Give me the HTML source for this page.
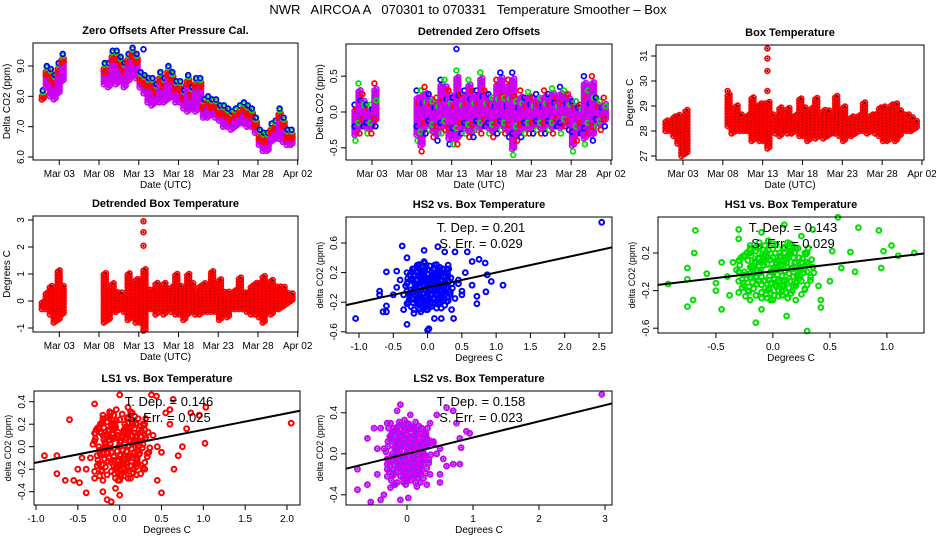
<!DOCTYPE html>
<html><head><meta charset="utf-8"><style>
html,body{margin:0;padding:0;background:#fff;}
svg{display:block;font-family:"Liberation Sans",sans-serif;}
.t{font-weight:bold;font-size:11px;}
.ax{font-size:10px;}
</style></head><body>
<svg id="c" width="936" height="540" viewBox="0 0 936 540">
<text x="468" y="14" text-anchor="middle" font-size="13" xml:space="preserve">NWR   AIRCOA A   070301 to 070331   Temperature Smoother – Box</text>
</svg>
<script>
// ---------- data ----------
const segDays = [0.8,1.3,1.8,2.3,2.8,3.3,8.6,9.1,9.6,10.1,10.6,11.1,11.6,12.1,12.6,13.1,13.6,14.1,14.6,15.1,15.6,16.1,16.6,17.1,17.6,18.1,18.6,19.1,19.6,20.1,20.6,21.1,21.6,22.1,22.6,23.1,23.6,24.1,24.6,25.1,25.6,26.1,26.6,27.1,27.6,28.1,28.6,29.1,29.6,30.1,30.6,31.1,31.6,32.1];
const dateTicks = [3,8,13,18,23,28,33];
const dateLabels = ["Mar 03","Mar 08","Mar 13","Mar 18","Mar 23","Mar 28","Apr 02"];
const zeroTop = [8.2,9.0,8.9,8.7,9.1,9.4,9.1,9.1,9.5,9.5,9.3,9.1,9.4,9.6,9.4,8.8,8.7,8.6,8.6,8.4,8.8,8.6,9.0,8.8,8.5,8.5,8.2,8.7,8.3,8.6,8.6,7.9,8.0,7.9,7.9,7.7,7.7,7.6,7.5,7.6,7.7,7.8,7.7,7.6,7.3,6.9,6.8,6.8,7.1,7.2,7.6,7.3,6.9,6.9];
const zeroLow = [7.9,8.3,8.0,7.9,8.1,8.5,8.4,8.3,8.6,8.4,8.5,8.3,8.5,8.7,8.6,8.3,8.1,7.8,7.7,7.8,7.8,7.8,7.9,8.0,7.8,7.8,7.6,7.5,7.6,7.5,7.6,7.3,7.3,7.4,7.3,7.2,7.0,7.0,6.9,7.0,7.1,7.1,7.0,7.0,6.8,6.4,6.2,6.2,6.5,6.6,6.6,6.5,6.4,6.4];
const zeroOutX = [13.6];
const zeroOutY = [9.55];
const detHi = [0.1,0.4,0.25,0.1,0.1,0.4,0.3,0.3,0.35,0.25,0.15,0.2,0.45,0.45,0.3,0.2,0.58,0.25,0.3,0.45,0.3,0.3,0.55,0.3,0.25,0.2,0.45,0.55,0.2,0.45,0.55,0.15,0.3,0.2,0.28,0.2,0.25,0.2,0.3,0.25,0.33,0.2,0.35,0.3,0.25,0.15,0.15,0.1,0.5,0.3,0.5,0.2,0.15,0.2];
const detLo = [-0.4,-0.3,-0.2,-0.3,-0.3,-0.2,-0.4,-0.55,-0.3,-0.25,-0.35,-0.4,-0.3,-0.25,-0.45,-0.45,-0.45,-0.3,-0.3,-0.35,-0.35,-0.25,-0.3,-0.2,-0.3,-0.35,-0.3,-0.25,-0.3,-0.35,-0.6,-0.4,-0.35,-0.3,-0.3,-0.3,-0.25,-0.3,-0.3,-0.25,-0.3,-0.2,-0.3,-0.2,-0.25,-0.55,-0.4,-0.3,-0.45,-0.3,-0.4,-0.2,-0.25,-0.2];
const detOutX = [13.6];
const detOutY = [0.88];
const boxHi = [28.4,28.4,28.6,28.6,28.2,28.8,29.5,28.6,29.0,28.6,28.5,28.6,29.3,28.9,29.1,29.1,29.1,28.6,28.6,28.9,28.5,28.9,28.5,28.7,29.3,28.9,28.8,29.0,29.3,28.6,28.8,28.8,28.6,29.4,28.8,29.0,28.5,28.6,28.5,28.7,29.1,28.6,28.6,28.7,28.9,29.0,28.9,29.1,29.1,28.8,28.7,28.7,28.5,28.4];
const boxLo = [28.0,28.0,27.8,27.5,27.0,27.1,28.2,27.9,28.0,28.0,28.0,28.0,27.6,27.7,27.6,27.6,27.3,28.0,27.9,27.8,28.0,27.9,27.9,28.0,27.8,27.8,27.6,27.8,27.7,27.8,27.7,27.8,27.9,27.9,27.8,27.6,27.8,27.8,27.9,28.0,28.0,27.9,28.0,27.9,27.8,27.6,27.6,27.8,27.6,27.8,28.0,28.0,28.0,28.1];
const boxOutX = [13.6,13.6,13.6,13.6,8.6];
const boxOutY = [31.3,30.9,30.4,29.6,29.6];
const dboxHi = [0.0,0.3,0.5,0.4,1.1,0.6,1.0,0.4,0.7,0.3,0.3,0.2,1.0,0.5,0.8,0.8,1.2,0.4,0.4,0.7,0.3,0.7,0.3,0.5,1.0,0.6,0.5,1.0,0.6,0.3,0.6,0.6,0.3,1.1,0.5,0.8,0.3,0.3,0.3,0.4,0.9,0.3,0.3,0.5,0.7,0.7,0.9,0.5,0.8,0.5,0.5,0.5,0.3,0.3];
const dboxLo = [-0.3,-0.3,-0.5,-0.8,-0.7,-0.5,-0.8,-0.7,-0.4,-0.4,-0.3,-0.4,-0.7,-0.6,-0.8,-0.8,-1.1,-0.3,-0.3,-0.5,-0.3,-0.5,-0.3,-0.4,-0.5,-0.5,-0.7,-0.5,-0.4,-0.5,-0.5,-0.4,-0.4,-0.4,-0.4,-0.7,-0.5,-0.6,-0.3,-0.3,-0.3,-0.3,-0.4,-0.5,-0.5,-0.6,-0.8,-0.4,-0.5,-0.3,-0.3,-0.2,-0.1,0.0];
const dboxOutX = [13.6,13.6,13.6];
const dboxOutY = [2.05,2.55,2.95];

// dense core cloud (shared shape of the central scatter, value units)
const coreX = [-0.32,-0.27,-0.22,-0.17,-0.12,-0.07,-0.02,0.03,0.08,0.13,0.18,0.23,0.28,0.33,-0.3,-0.25,-0.2,-0.15,-0.1,-0.05,0.0,0.05,0.1,0.15,0.2,0.25,0.3,-0.29,-0.24,-0.19,-0.14,-0.09,-0.04,0.01,0.06,0.11,0.16,0.21,0.26,0.31,-0.26,-0.21,-0.16,-0.11,-0.06,-0.01,0.04,0.09,0.14,0.19,0.24,-0.23,-0.18,-0.13,-0.08,-0.03,0.02,0.07,0.12,0.17,0.22,-0.2,-0.15,-0.1,-0.05,0.0,0.05,0.1,0.15,0.2,-0.12,-0.07,-0.02,0.03,0.08,0.13];
const coreY = [0.02,-0.08,0.12,-0.18,0.06,0.18,-0.12,0.1,-0.04,0.14,-0.16,0.04,0.2,-0.06,-0.22,0.16,-0.02,0.22,-0.14,0.08,0.24,-0.2,0.0,-0.1,0.1,-0.24,-0.14,0.12,-0.26,0.06,-0.06,0.16,-0.18,-0.08,0.2,-0.22,0.04,-0.04,0.14,0.08,-0.12,-0.16,0.1,0.02,-0.24,0.0,0.12,-0.14,-0.02,0.2,-0.06,0.2,0.04,-0.1,0.12,-0.04,-0.14,0.06,0.16,-0.2,0.0,-0.06,0.26,-0.22,-0.28,0.04,-0.26,0.26,0.22,-0.12,0.14,0.28,-0.3,-0.16,0.08,-0.28];

const hs2X = [2.54,-1.05,-0.7,-0.7,-0.65,-0.6,-0.6,-0.6,-0.45,-0.37,-0.3,-0.3,-0.05,-0.05,0.0,0.02,0.15,0.25,0.4,0.58,0.65,0.75,0.84,0.87,0.93,1.1,0.85,0.72,0.72,0.65,0.55,0.5,0.38,0.35,0.2,0.1,-0.1,-0.2,-0.35,0.45,0.3,
 -0.3,-0.25,-0.2,-0.15,-0.1,-0.05,0,0.05,0.1,0.15,0.2,0.25,0.3,-0.28,-0.22,-0.18,-0.12,-0.08,-0.02,0.02,0.08,0.12,0.18,0.22,0.28,-0.3,-0.2,-0.1,0,0.1,0.2,0.3,-0.25,-0.15,-0.05,0.05,0.15,0.25,-0.35,0.35,-0.4,0.4,-0.2,0,0.2,-0.1,0.1,-0.3,0.3,0,-0.45,-0.5,0.45,0.5,-0.15,0.15];
const hs2Y = [0.88,-0.42,-0.05,-0.1,-0.33,-0.33,-0.25,0.21,0.22,0.56,0.4,-0.5,0.5,0.35,-0.58,-0.56,0.55,0.48,0.48,0.48,0.35,0.38,0.33,0.17,0.08,0.03,-0.06,-0.12,-0.22,0.03,0.2,-0.1,-0.42,-0.3,-0.42,-0.42,-0.33,-0.35,-0.3,0.1,0.3,
 0.05,-0.1,0.15,-0.2,0.0,0.2,-0.05,0.1,-0.15,0.05,0.2,-0.1,0.0,-0.2,0.25,0.0,-0.3,0.1,0.28,-0.25,0.15,-0.05,-0.2,0.1,0.25,0.2,-0.15,0.22,0.1,0.3,-0.05,-0.18,0.1,0.3,-0.28,-0.1,0.25,0.2,-0.1,0.05,0.1,-0.15,-0.3,-0.3,-0.28,-0.12,0.05,-0.05,0.15,0.18,0.0,-0.1,0.05,-0.05,-0.22,0.12];
const hs1X = [-0.92,-0.75,-0.75,-0.68,-0.7,-0.75,-0.69,-0.58,-0.5,-0.5,-0.45,-0.45,-0.3,-0.3,-0.15,0.3,0.12,-0.1,0.42,0.42,0.57,0.75,0.93,1.04,0.97,1.1,1.24,0.95,0.72,0.68,0.6,0.5,0.35,0.25,0.1,-0.1,0.52,0.2,-0.2,-0.38,
 -0.3,-0.25,-0.2,-0.15,-0.1,-0.05,0,0.05,0.1,0.15,0.2,0.25,0.3,-0.28,-0.22,-0.18,-0.12,-0.08,-0.02,0.02,0.08,0.12,0.18,0.22,0.28,-0.3,-0.2,-0.1,0,0.1,0.2,0.3,-0.25,-0.15,-0.05,0.05,0.15,0.25,-0.35,0.35,-0.4,0.4,-0.2,0,0.2,-0.1,0.1,-0.3,0.3,0];
const hs1Y = [-0.13,0.04,-0.08,0.44,-0.3,-0.37,0.2,-0.02,-0.12,-0.2,-0.4,0.1,0.45,0.35,-0.54,-0.63,-0.47,-0.4,-0.38,-0.3,0.58,0.47,0.44,0.28,0.22,0.17,0.2,0.04,0.0,0.21,0.04,-0.1,0.45,0.38,0.5,0.42,0.22,-0.3,-0.3,-0.25,
 0.0,-0.15,0.2,-0.05,0.1,-0.2,0.15,0.05,-0.1,0.25,-0.15,0.1,0.0,0.15,-0.2,0.05,0.25,-0.1,0.0,0.2,-0.25,0.1,0.15,-0.05,-0.18,-0.1,0.28,-0.22,0.3,-0.15,0.1,0.2,0.0,-0.25,0.15,-0.2,0.3,-0.1,0.1,0.05,-0.05,-0.15,0.05,-0.3,0.25,-0.28,0.2,0.12,0.1,0.0];
const ls1X = [2.05,-0.9,-0.75,-0.75,-0.65,-0.6,-0.55,-0.5,-0.48,-0.4,-0.2,-0.15,-0.1,0.0,-0.05,0.5,0.38,0.44,0.0,0.64,-0.3,1.02,1.03,0.95,0.85,0.8,0.75,0.7,0.65,0.6,0.55,0.6,0.3,0.45,0.2,0.1,-0.2,
 -0.35,-0.3,-0.25,-0.2,-0.15,-0.1,-0.05,0,0.05,0.1,0.15,0.2,0.25,0.3,0.35,-0.28,-0.22,-0.18,-0.12,-0.08,-0.02,0.02,0.08,0.12,0.18,0.22,0.28,-0.3,-0.2,-0.1,0,0.1,0.2,0.3,-0.25,-0.15,-0.05,0.05,0.15,0.25,-0.4,0.4,-0.45,0.45,-0.2,0,0.2,-0.1,0.1,-0.3,0.3,0,0.5];
const ls1Y = [0.21,-0.08,-0.08,-0.24,-0.3,0.24,-0.3,-0.2,-0.32,-0.41,-0.4,-0.47,-0.49,-0.43,-0.37,-0.41,0.46,0.45,0.46,0.42,0.38,0.03,0.35,0.28,0.3,0.16,0.0,-0.08,-0.2,0.2,0.3,0.33,-0.2,-0.3,-0.25,0.35,0.28,
 -0.1,0.05,-0.15,0.1,-0.05,0.2,-0.2,0.0,0.15,-0.1,0.1,-0.18,0.05,0.2,-0.05,0.15,-0.22,0.0,0.25,-0.12,0.1,-0.25,0.18,-0.08,0.12,-0.15,0.02,-0.28,0.22,0.08,-0.2,0.25,-0.1,0.1,0.0,-0.25,0.18,-0.15,0.3,0.05,-0.2,0.1,-0.1,0.0,-0.3,-0.3,0.2,0.3,-0.28,0.12,0.15,0.0,-0.05];
const ls2X = [2.95,-0.75,-0.75,-0.6,-0.55,-0.6,-0.5,-0.45,-0.4,-0.35,-0.25,-0.1,0.02,-0.1,-0.15,0.05,0.6,0.7,0.75,0.9,0.95,0.8,0.82,0.8,0.7,0.6,0.5,0.5,0.3,0.15,0.45,0.35,-0.3,-0.4,
 -0.35,-0.3,-0.25,-0.2,-0.15,-0.1,-0.05,0,0.05,0.1,0.15,0.2,0.25,0.3,0.35,0.4,-0.28,-0.22,-0.18,-0.12,-0.08,-0.02,0.02,0.08,0.12,0.18,0.22,0.28,-0.3,-0.2,-0.1,0,0.1,0.2,0.3,-0.25,-0.15,-0.05,0.05,0.15,0.25,0.45,0.4,-0.45,0.5,-0.2,0,0.2,-0.1,0.1,-0.3,0.3,0,0.55];
const ls2Y = [0.58,-0.15,-0.35,-0.3,-0.47,0.15,0.25,-0.2,-0.45,-0.4,-0.33,-0.45,-0.43,0.48,0.42,0.38,0.45,0.42,0.3,0.22,0.2,0.15,0.06,-0.1,-0.1,-0.12,-0.2,-0.28,-0.3,-0.32,0.38,0.3,0.3,0.25,
 0.05,-0.1,0.15,-0.2,0.0,0.2,-0.05,0.1,-0.15,0.05,0.2,-0.1,0.0,0.15,-0.2,0.1,0.25,0.0,-0.3,0.1,0.28,-0.25,0.15,-0.05,-0.2,0.1,0.25,0.2,-0.15,0.22,0.1,0.3,-0.05,-0.18,0.1,0.3,-0.28,-0.1,0.25,0.2,-0.1,0.0,0.12,0.05,0.05,-0.3,-0.25,-0.28,-0.12,0.05,-0.05,0.15,0.18,-0.05];
const slopes = [0.201,0.143,0.146,0.158];
const serrs = ["0.029","0.029","0.025","0.023"];
const intercepts = [0.0,0.0,0.004,0.0];

// ---------- drawing ----------
const svg = document.getElementById('c');
const NS = 'http://www.w3.org/2000/svg';
function mk(tag, attrs, parent){ const e=document.createElementNS(NS,tag); for(const k in attrs) e.setAttribute(k,attrs[k]); (parent||svg).appendChild(e); return e; }
function lin(d0,d1,p0,p1){ return v=>p0+(v-d0)*(p1-p0)/(d1-d0); }

function panel(name,title,box,xs,ys,xt,xl,yt,yl,xlab,ylab,ylabSize){
  const g=mk('g',{});
  
  
  const tt=mk('text',{x:(box[0]+box[2])/2,y:box[1]-9,'text-anchor':'middle',class:'t'},g);
  tt.textContent=title;
  
  
  const plot=mk('g',{},g);
  
  
  const fr=mk('rect',{x:box[0],y:box[1],width:box[2]-box[0],height:box[3]-box[1],fill:'none',stroke:'#000','stroke-width':1},g);
  
  
  const xa=mk('g',{},g);
  
  
  xt.forEach((v,i)=>{const x=xs(v); mk('line',{x1:x,x2:x,y1:box[3],y2:box[3]+5,stroke:'#000'},xa);
    const t=mk('text',{x:x,y:box[3]+17,'text-anchor':'middle',class:'ax'},xa); t.textContent=xl[i];});
  const xlt=mk('text',{x:(box[0]+box[2])/2,y:box[3]+28,'text-anchor':'middle',class:'ax'},g);
  xlt.textContent=xlab;
  
  
  const ya=mk('g',{},g);
  
  
  yt.forEach((v,i)=>{const y=ys(v); mk('line',{x1:box[0]-5,x2:box[0],y1:y,y2:y,stroke:'#000'},ya);
    const t=mk('text',{x:box[0]-9,y:y,'text-anchor':'middle',class:'ax',transform:`rotate(-90 ${box[0]-9} ${y})`},ya); t.textContent=yl[i];});
  const yx=box[0]-23, yc=(box[1]+box[3])/2;
  const ylt=mk('text',{x:yx,y:yc,'text-anchor':'middle','font-size':ylabSize||10,transform:`rotate(-90 ${yx} ${yc})`},g);
  ylt.textContent=ylab;
  
  
  return plot;
}
function circ(p,x,y,col,extra,sw){ mk('circle',{cx:x.toFixed(1),cy:y.toFixed(1),r:2.4,fill:'none',stroke:col,'stroke-width':sw||1.7},p); if(extra) mk('circle',{cx:x.toFixed(1),cy:y.toFixed(1),r:1.1,fill:extra},p); }
function column(p,x,y1,y2,col,extra){ const top=Math.min(y1,y2), bot=Math.max(y1,y2); for(let y=bot;y>=top;y-=3){ circ(p,x,y,col,extra); circ(p,x+2,y-1.5,col,extra);} }

const dticks=dateTicks;
// P1
{ const box=[33,43,298,160]; const xs=lin(3,33,59.3,297.7), ys=lin(6,9,157,66);
  const p=panel('zero-offsets','Zero Offsets After Pressure Cal.',box,xs,ys,dticks,dateLabels,[6,7,8,9],['6.0','7.0','8.0','9.0'],'Date (UTC)','Delta CO2 (ppm)');
  segDays.forEach((d,i)=>{const x=xs(d);
    column(p,x,ys(zeroLow[i]),ys(zeroTop[i]-0.25),'#d000f0','#4040ff');
    column(p,x,ys(zeroTop[i]-0.3),ys(zeroTop[i]-0.12),'#ff0000');
    circ(p,x+1,ys(zeroTop[i]-0.06),'#00e000'); circ(p,x+1,ys(zeroTop[i]),'#0000ff');});
  zeroOutX.forEach((d,i)=>circ(p,xs(d),ys(zeroOutY[i]),'#0000ff'));
}
// P2
{ const box=[346,44,612,160]; const xs=lin(3,33,372,611), ys=lin(0,0.5,112,76.2);
  const p=panel('detrended-zero-offsets','Detrended Zero Offsets',box,xs,ys,dticks,dateLabels,[-0.5,0,0.5],['-0.5','0.0','0.5'],'Date (UTC)','Delta CO2 (ppm)');
  const cols=['#0000ff','#00e000','#ff0000'];
  segDays.forEach((d,i)=>{const x=xs(d);
    column(p,x,ys(detLo[i]+0.08),ys(detHi[i]-0.08),'#d000f0','#4040ff');
    circ(p,x,ys(detHi[i]),cols[i%3]); circ(p,x+1,ys(detLo[i]),cols[(i+1)%3]);
    circ(p,x+2,ys(detHi[i]*0.4),cols[(i+2)%3]); circ(p,x,ys(detLo[i]*0.5),cols[i%3]);});
  detOutX.forEach((d,i)=>circ(p,xs(d),ys(detOutY[i]),'#0000ff'));
}
// P3
{ const box=[656,45,924,160]; const xs=lin(3,33,683,922), ys=lin(27,31,156,56);
  const p=panel('box-temperature','Box Temperature',box,xs,ys,dticks,dateLabels,[27,28,29,30,31],['27','28','29','30','31'],'Date (UTC)','Degrees C');
  segDays.forEach((d,i)=>column(p,xs(d),ys(boxLo[i]),ys(boxHi[i]),'#ff0000','#300'));
  boxOutX.forEach((d,i)=>circ(p,xs(d),ys(boxOutY[i]),'#ff0000','#300'));
}
// P4
{ const box=[33,216,298,332]; const xs=lin(3,33,59.3,297.7), ys=lin(0,1,301,274);
  const p=panel('detrended-box-temperature','Detrended Box Temperature',box,xs,ys,dticks,dateLabels,[-1,0,1,2,3],['-1','0','1','2','3'],'Date (UTC)','Degrees C');
  segDays.forEach((d,i)=>column(p,xs(d),ys(dboxLo[i]),ys(dboxHi[i]),'#ff0000','#300'));
  dboxOutX.forEach((d,i)=>circ(p,xs(d),ys(dboxOutY[i]),'#ff0000','#300'));
}
function scatter(name,title,box,xs,ys,xt,xl,yt,yl,X,Y,col,extra,k,xr){
  const p=panel(name,title,box,xs,ys,xt,xl,yt,yl,'Degrees C','delta CO2 (ppm)',9);
  X.forEach((v,i)=>circ(p,xs(v),ys(Y[i]),col,extra,2));
  coreX.forEach((v,i)=>{circ(p,xs(v),ys(coreY[i]),col,extra,2); circ(p,xs(v+0.03),ys(coreY[i]+0.05),col,extra,2);});
  const ln=mk('line',{x1:box[0],y1:ys(intercepts[k]+slopes[k]*xr[0]),x2:box[2],y2:ys(intercepts[k]+slopes[k]*xr[1]),stroke:'#000','stroke-width':2},p.parentNode);
  
  
  const cx=(box[0]+box[2])/2+2;
  const t1=mk('text',{x:cx,y:box[1]+15,'text-anchor':'middle','font-size':13},p.parentNode);
  t1.textContent='T. Dep. =  '+slopes[k].toFixed(3);
  
  
  const t2=mk('text',{x:cx,y:box[1]+31,'text-anchor':'middle','font-size':13},p.parentNode);
  t2.textContent='S. Err. =  '+serrs[k];
  
  
}
scatter('hs2-vs-box','HS2 vs. Box Temperature',[346,217,612,333],lin(-1,2.5,359,599),lin(0,0.6,287.4,243),[-1,-0.5,0,0.5,1,1.5,2,2.5],['-1.0','-0.5','0.0','0.5','1.0','1.5','2.0','2.5'],[-0.6,-0.2,0.2,0.6],['-0.6','-0.2','0.2','0.6'],hs2X,hs2Y,'#0000ff',null,0,[-1.19,2.69]);
scatter('hs1-vs-box','HS1 vs. Box Temperature',[658,217,924,333],lin(0,1,772.9,886.9),lin(0,0.2,271.8,253),[-0.5,0,0.5,1],['-0.5','0.0','0.5','1.0'],[-0.6,-0.2,0.2],['-0.6','-0.2','0.2'],hs1X,hs1Y,'#00e000',null,1,[-0.97,1.36]);
scatter('ls1-vs-box','LS1 vs. Box Temperature',[34,391,300,505],lin(-1,2,36,287),lin(0,0.4,446.7,401.7),[-1,-0.5,0,0.5,1,1.5,2],['-1.0','-0.5','0.0','0.5','1.0','1.5','2.0'],[-0.4,-0.2,0,0.2,0.4],['-0.4','-0.2','0.0','0.2','0.4'],ls1X,ls1Y,'#ff0000',null,2,[-1.02,2.16]);
scatter('ls2-vs-box','LS2 vs. Box Temperature',[346,391,612,505],lin(0,3,407,605),lin(0,0.4,453.8,412.8),[0,1,2,3],['0','1','2','3'],[-0.4,0,0.4],['-0.4','0.0','0.4'],ls2X,ls2Y,'#d000f0','#4040ff',3,[-0.92,3.11]);
</script>
</body></html>
